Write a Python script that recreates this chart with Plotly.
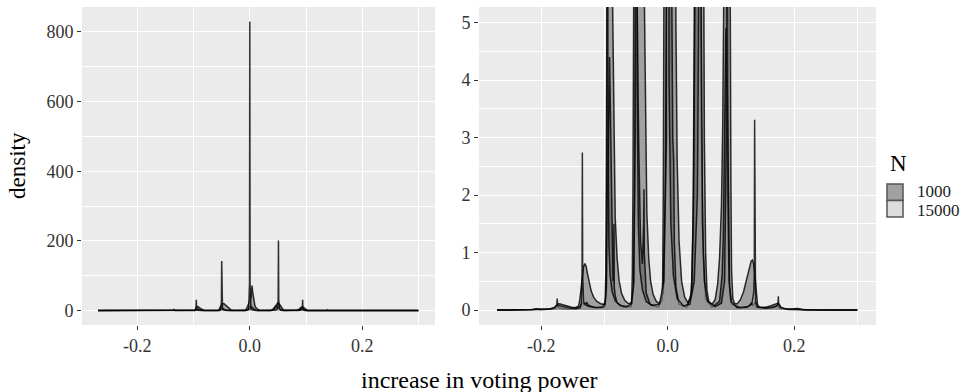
import plotly.graph_objects as go

# ---- data ----
# N = 1000, run a
x_1000a = [-0.270, -0.240, -0.215, -0.208, -0.203, -0.195, -0.185, -0.179, -0.176, -0.173,
           -0.170, -0.165, -0.160, -0.152, -0.145, -0.141, -0.139, -0.137, -0.135, -0.133,
           -0.131, -0.129, -0.127, -0.124, -0.121, -0.117, -0.112, -0.106, -0.101, -0.099,
           -0.098, -0.097, -0.0965, -0.095, -0.093, -0.091, -0.089, -0.087, -0.085, -0.083,
           -0.080, -0.077, -0.073, -0.068, -0.063, -0.059, -0.057, -0.056, -0.055, -0.054,
           -0.052, -0.049, -0.046, -0.043, -0.040, -0.037, -0.035, -0.033, -0.030, -0.027,
           -0.023, -0.018, -0.013, -0.009, -0.008, -0.007, -0.006, -0.004, -0.002, 0.000,
           0.002, 0.003, 0.004, 0.005, 0.007, 0.009, 0.011, 0.013, 0.015, 0.018,
           0.022, 0.027, 0.032, 0.036, 0.038, 0.040, 0.041, 0.042, 0.044, 0.047,
           0.050, 0.053, 0.055, 0.057, 0.058, 0.060, 0.062, 0.065, 0.070, 0.075,
           0.079, 0.082, 0.085, 0.087, 0.089, 0.091, 0.093, 0.095, 0.097, 0.099,
           0.100, 0.101, 0.103, 0.106, 0.110, 0.115, 0.120, 0.125, 0.129, 0.132,
           0.134, 0.136, 0.138, 0.140, 0.142, 0.145, 0.155, 0.162, 0.168, 0.172,
           0.175, 0.177, 0.180, 0.190, 0.200, 0.205, 0.212, 0.240, 0.300]
dens_1000a = [0.000, 0.002, 0.008, 0.022, 0.018, 0.015, 0.022, 0.040, 0.085, 0.110,
              0.105, 0.090, 0.070, 0.050, 0.045, 0.070, 0.180, 0.400, 0.620, 0.760,
              0.810, 0.760, 0.640, 0.470, 0.330, 0.220, 0.150, 0.110, 0.100, 0.140,
              0.600, 2.500, 5.500, 9.000, 12.00, 11.00, 8.000, 5.200, 2.800, 1.600,
              0.900, 0.520, 0.290, 0.170, 0.120, 0.110, 0.160, 0.600, 2.000, 5.500,
              12.00, 19.00, 20.00, 16.00, 10.00, 5.500, 3.000, 1.700, 0.900, 0.500,
              0.270, 0.150, 0.110, 0.160, 0.500, 2.000, 5.500, 12.00, 20.00, 26.00,
              35.00, 55.00, 72.00, 55.00, 30.00, 15.00, 8.000, 5.000, 2.600, 1.200,
              0.500, 0.220, 0.130, 0.200, 0.500, 1.500, 3.000, 5.500, 10.00, 17.00,
              22.00, 18.00, 12.00, 6.000, 3.000, 1.000, 0.350, 0.150, 0.100, 0.180,
              0.450, 0.900, 1.800, 3.200, 5.500, 9.000, 11.00, 10.00, 7.500, 5.200,
              2.200, 0.700, 0.200, 0.110, 0.110, 0.180, 0.320, 0.540, 0.740, 0.850,
              0.870, 0.800, 0.600, 0.300, 0.100, 0.050, 0.050, 0.070, 0.090, 0.110,
              0.120, 0.090, 0.030, 0.015, 0.015, 0.025, 0.010, 0.002, 0.000]

# N = 1000, run b (the darker inner lines)
x_1000b = [-0.270, -0.220, -0.200, -0.180, -0.174, -0.170, -0.160, -0.145, -0.138, -0.135,
           -0.132, -0.128, -0.125, -0.115, -0.100, -0.097, -0.0955, -0.094, -0.092, -0.090,
           -0.088, -0.0865, -0.085, -0.0845, -0.083, -0.080, -0.070, -0.058, -0.054, -0.052,
           -0.050, -0.048, -0.046, -0.043, -0.040, -0.038, -0.0375, -0.037, -0.034, -0.028,
           -0.015, -0.007, -0.004, -0.001, 0.002, 0.005, 0.008, 0.0095, 0.0105, 0.013,
           0.018, 0.030, 0.038, 0.041, 0.044, 0.047, 0.050, 0.053, 0.056, 0.060,
           0.070, 0.082, 0.086, 0.088, 0.089, 0.0905, 0.092, 0.094, 0.096, 0.098,
           0.101, 0.115, 0.128, 0.132, 0.135, 0.138, 0.140, 0.160, 0.170, 0.174,
           0.177, 0.195, 0.220, 0.300]
dens_1000b = [0.000, 0.003, 0.010, 0.020, 0.060, 0.030, 0.020, 0.020, 0.050, 0.120,
              0.100, 0.130, 0.080, 0.040, 0.050, 0.300, 1.500, 3.500, 4.400, 3.000,
              1.200, 0.500, 1.500, 0.400, 0.250, 0.120, 0.050, 0.060, 0.400, 2.500,
              6.000, 5.100, 3.000, 1.200, 0.800, 1.500, 2.100, 1.000, 0.300, 0.100,
              0.050, 0.300, 2.000, 8.000, 12.00, 8.000, 3.000, 2.600, 1.200, 0.400,
              0.100, 0.050, 0.300, 2.000, 7.000, 12.00, 9.000, 3.500, 1.000, 0.200,
              0.050, 0.150, 0.600, 1.300, 2.200, 3.500, 4.900, 4.000, 1.500, 0.400,
              0.100, 0.040, 0.060, 0.120, 0.080, 0.140, 0.050, 0.030, 0.050, 0.080,
              0.030, 0.010, 0.003, 0.000]

# N = 15000
x_15000 = [-0.270, -0.230, -0.212, -0.207, -0.202, -0.188, -0.180, -0.1755, -0.1748, -0.1740,
           -0.170, -0.164, -0.157, -0.146, -0.139, -0.1365, -0.1355, -0.1350, -0.1345, -0.1330,
           -0.130, -0.124, -0.114, -0.104, -0.099, -0.097, -0.0958, -0.0952, -0.0946, -0.093,
           -0.091, -0.088, -0.083, -0.075, -0.065, -0.057, -0.0535, -0.0515, -0.0505, -0.0500,
           -0.0495, -0.0485, -0.0465, -0.044, -0.040, -0.034, -0.025, -0.013, -0.006, -0.002,
           -0.0005, 0.0000, 0.0005, 0.002, 0.005, 0.009, 0.015, 0.025, 0.035, 0.042,
           0.047, 0.0495, 0.0505, 0.0510, 0.0515, 0.053, 0.055, 0.058, 0.063, 0.075,
           0.085, 0.090, 0.0928, 0.0935, 0.0940, 0.0945, 0.0952, 0.097, 0.100, 0.110,
           0.125, 0.133, 0.136, 0.1370, 0.1375, 0.1380, 0.139, 0.142, 0.155, 0.165,
           0.172, 0.1745, 0.1750, 0.1755, 0.178, 0.190, 0.205, 0.220, 0.300]
dens_15000 = [0.000, 0.001, 0.008, 0.020, 0.010, 0.015, 0.040, 0.080, 0.200, 0.080,
              0.070, 0.060, 0.040, 0.025, 0.040, 0.120, 0.600, 2.740, 0.600, 0.140,
              0.090, 0.060, 0.045, 0.050, 0.100, 0.400, 2.500, 31.00, 3.000, 1.100,
              0.600, 0.320, 0.160, 0.080, 0.060, 0.110, 0.500, 3.000, 25.00, 142.0,
              25.00, 4.000, 1.500, 0.700, 0.350, 0.150, 0.080, 0.100, 0.500, 3.000,
              80.00, 830.0, 80.00, 4.000, 1.500, 0.600, 0.200, 0.070, 0.100, 0.500,
              2.000, 6.000, 30.00, 201.0, 30.00, 5.000, 1.500, 0.500, 0.150, 0.060,
              0.120, 0.500, 3.000, 8.000, 31.00, 8.000, 2.000, 0.500, 0.150, 0.040,
              0.050, 0.100, 0.300, 0.600, 3.310, 0.600, 0.150, 0.050, 0.030, 0.050,
              0.070, 0.100, 0.240, 0.100, 0.050, 0.010, 0.020, 0.005, 0.000]

groups = ["1000", "15000"]
fills = {"1000": "rgba(51,51,51,0.4)", "15000": "rgba(204,204,204,0.4)"}
key_fills = {"1000": "#a1a1a1", "15000": "#dcdcdc"}
curves = [("1000", x_1000a, dens_1000a), ("1000", x_1000b, dens_1000b),
          ("15000", x_15000, dens_15000)]

x_ticks = [-0.2, 0.0, 0.2]
x_ticklabels = ["-0.2", "0.0", "0.2"]
left_yticks = [0, 200, 400, 600, 800]
right_yticks = [0, 1, 2, 3, 4, 5]

W, H = 964, 392
FONT = "Liberation Serif"

fig = go.Figure()
for ax in ["x", "x2"]:
    yax = "y" if ax == "x" else "y2"
    for g, xs, ys in curves:
        fig.add_trace(go.Scatter(
            x=xs, y=ys, xaxis=ax, yaxis=yax, mode="lines", fill="tozeroy",
            fillcolor=fills[g], line=dict(color="rgba(0,0,0,0.8)", width=1.5),
            showlegend=False, hoverinfo="skip"))

# panel geometry (pixels)
L1, R1, L2, R2, T, B = 82, 435, 479, 876, 7, 325
xr = [-0.2985, 0.3295]

def xaxis(l, r):
    return dict(domain=[l / W, r / W], range=xr, tickvals=x_ticks, ticktext=x_ticklabels,
                showgrid=True, gridcolor="white", gridwidth=1.3, zeroline=False,
                ticks="outside", ticklen=4, tickcolor="#333333", tickwidth=1,
                tickfont=dict(family=FONT, size=18, color="#333333"),
                minor=dict(tickvals=[-0.3, -0.1, 0.1, 0.3], showgrid=True,
                           gridcolor="white", gridwidth=0.6, ticklen=0),
                showline=False, fixedrange=True)

def yaxis(rng, ticks, minor, anchor):
    return dict(domain=[(H - B) / H, (H - T) / H], range=rng, tickvals=ticks,
                showgrid=True, gridcolor="white", gridwidth=1.3, zeroline=False,
                ticks="outside", ticklen=4, tickcolor="#333333", tickwidth=1,
                tickfont=dict(family=FONT, size=18, color="#333333"),
                minor=dict(tickvals=minor, showgrid=True, gridcolor="white",
                           gridwidth=0.6, ticklen=0),
                anchor=anchor, showline=False, fixedrange=True)

fig.update_layout(
    width=W, height=H, margin=dict(l=0, r=0, t=0, b=0),
    paper_bgcolor="white", plot_bgcolor="#ebebeb",
    xaxis=xaxis(L1, R1), xaxis2=xaxis(L2, R2),
    yaxis=yaxis([-41.5, 871.5], left_yticks, [100, 300, 500, 700], "x"),
    yaxis2=yaxis([-0.26, 5.27], right_yticks, [0.5, 1.5, 2.5, 3.5, 4.5], "x2"),
    showlegend=False,
)
fig.layout.xaxis.anchor = "y"
fig.layout.xaxis2.anchor = "y2"

# axis titles
fig.add_annotation(text="density", x=17 / W, y=1 - 166 / H, xref="paper", yref="paper",
                   textangle=-90, showarrow=False, font=dict(family=FONT, size=23, color="black"),
                   xanchor="center", yanchor="middle")
fig.add_annotation(text="increase in voting power", x=479 / W, y=1 - 380 / H, xref="paper",
                   yref="paper", showarrow=False, font=dict(family=FONT, size=24, color="black"),
                   xanchor="center", yanchor="middle")

# legend (drawn as keys + labels)
fig.add_annotation(text="N", x=888 / W, y=1 - 163 / H, xref="paper", yref="paper",
                   showarrow=False, font=dict(family=FONT, size=23, color="black"),
                   xanchor="left", yanchor="middle")
key_top = 184
key_h = 16.5
label_y = [191, 211]
for i, g in enumerate(groups):
    y0 = key_top + i * key_h
    fig.add_shape(type="rect", xref="paper", yref="paper",
                  x0=887 / W, x1=903 / W, y0=1 - (y0 + key_h) / H, y1=1 - y0 / H,
                  fillcolor=key_fills[g], line=dict(color="#555555", width=1.5))
    fig.add_annotation(text=g, x=915 / W, y=1 - label_y[i] / H, xref="paper",
                       yref="paper", showarrow=False,
                       font=dict(family=FONT, size=17, color="#222222"),
                       xanchor="left", yanchor="middle")

fig.write_html("out.html")
